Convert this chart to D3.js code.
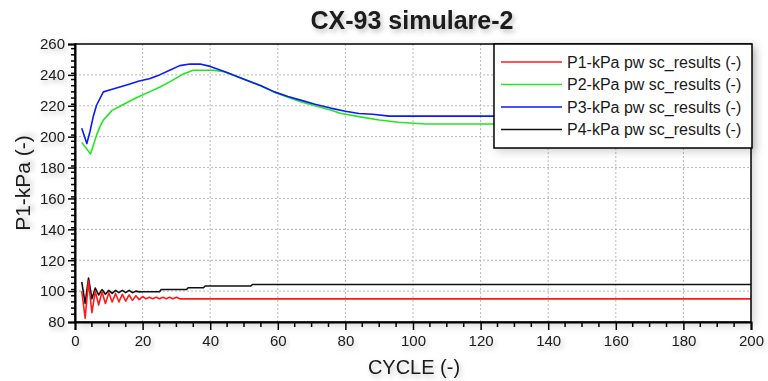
<!DOCTYPE html>
<html>
<head>
<meta charset="utf-8">
<script src="https://cdn.jsdelivr.net/npm/d3@7"></script>
<style>
  body { margin: 0; background: #fff; }
  text { font-family: "Liberation Sans", Arial, sans-serif; fill: #1a1a1a; }
</style>
</head>
<body>
<div id="chart"></div>
<script>
// series: [cycle, value]
const p1 = [[2,100],[3,82.5],[4,106.5],[5,86],[6,100],[7,91],[8,99.5],[9,92],[10,99],[11,93],[12,98.5],
  [13,93],[14,98],[15,93.5],[16,97.5],[17,94],[18,97],[19,94.5],[20,96.5],[21,95],[22,96],[23,95],[24,96],
  [25,95],[26,96],[27,95],[28,96],[29,95],[30,96],[31,95],[200,95]]
const p2 = [[2,196.3],[4.6,188.8],[6.4,201],[7.4,206.5],[8.4,210.8],[11,217],[14,220.5],[18,225],[22,229],
  [25,232],[28,235.5],[32,240.5],[35,243],[41,243],[44,242],[49,238.2],[55,233],[59,228.7],[63,225.5],
  [67,222.5],[71,220],[75.6,217.3],[78.5,215.2],[84,213],[90,210.8],[95.7,209.3],[103.7,208.2],[200,208.2]]
const p3 = [[2,205.5],[3.5,195.5],[4.4,203],[5.4,213],[6.4,220.5],[8.4,229],[10,230],[13,232],[16,234],
  [19,236],[22,237.5],[25,240],[28,243],[31,246],[34,247],[37,247],[40,245.5],[45,241.5],[49,238],[55,233],
  [59,229],[63,226],[67,223.5],[71,221],[75.6,218.5],[80,216.5],[84,215],[88,214.5],[93,213.3],[200,213.3]]
const p4 = [[2,106],[3,92],[4,108.5],[5,95],[6,102],[7,97.5],[8,101],[9,98],[10,100.5],[11,98.5],[12,100.5],
  [13,99],[14,100.5],[15,99],[16,100.5],[17,99],[18,100],[19,99.5],[20,99.6],[25,99.6],[25.5,101],[33,101],
  [33.5,102.2],[38,102.2],[38.5,103.3],[52,103.3],[52.5,104.3],[200,104.3]]

const seriesNames = ["P1-kPa pw sc_results (-)", "P2-kPa pw sc_results (-)",
  "P3-kPa pw sc_results (-)", "P4-kPa pw sc_results (-)"]
const seriesColors = ["#ff1a1a", "#22e622", "#0a1aff", "#111111"]
const xTicks = [0, 20, 40, 60, 80, 100, 120, 140, 160, 180, 200]
const yTicks = [80, 100, 120, 140, 160, 180, 200, 220, 240, 260]

const W = 768, H = 381
const margin = {top: 44, right: 17, bottom: 59, left: 75}
const width = W - margin.left - margin.right
const height = H - margin.top - margin.bottom

const svg = d3.select("#chart").append("svg")
    .attr("width", W)
    .attr("height", H)

const defs = svg.append("defs")
defs.append("filter").attr("id", "shadow")
    .attr("x", "-20%").attr("y", "-20%").attr("width", "140%").attr("height", "140%")
  .append("feDropShadow")
    .attr("dx", 3).attr("dy", 3).attr("stdDeviation", 4)
    .attr("flood-color", "#000").attr("flood-opacity", 0.18)
defs.append("filter").attr("id", "tshadow")
    .attr("x", "-20%").attr("y", "-40%").attr("width", "140%").attr("height", "180%")
  .append("feDropShadow")
    .attr("dx", 2).attr("dy", 3).attr("stdDeviation", 2.5)
    .attr("flood-color", "#000").attr("flood-opacity", 0.25)

const g = svg.append("g")
    .attr("transform", `translate(${margin.left},${margin.top})`)

const x = d3.scaleLinear().domain([0, 200]).range([0, width])
const y = d3.scaleLinear().domain([80, 260]).range([height, 0])

// plot background with soft shadow
g.append("rect")
    .attr("width", width).attr("height", height)
    .attr("fill", "#fff")
    .attr("filter", "url(#shadow)")

// grid
g.append("g")
    .selectAll("line")
    .data(xTicks.slice(1, -1))
    .join("line")
    .attr("x1", d => x(d)).attr("x2", d => x(d))
    .attr("y1", 0).attr("y2", height)
    .attr("stroke", "#b8b8b8").attr("stroke-dasharray", "2,2")
g.append("g")
    .selectAll("line")
    .data(yTicks.slice(1, -1))
    .join("line")
    .attr("y1", d => y(d)).attr("y2", d => y(d))
    .attr("x1", 0).attr("x2", width)
    .attr("stroke", "#b8b8b8").attr("stroke-dasharray", "2,2")

// lines
const line = d3.line()
    .x(d => x(d[0]))
    .y(d => y(d[1]))

const allSeries = [p1, p2, p3, p4]
// draw in order so black and red sit on top near the bottom
g.append("g")
    .selectAll("path")
    .data([1, 2, 3, 0])
    .join("path")
    .attr("d", i => line(allSeries[i]))
    .attr("fill", "none")
    .attr("stroke", i => seriesColors[i])
    .attr("stroke-width", 1.6)
    .attr("stroke-linejoin", "round")

// frame
g.append("rect")
    .attr("width", width).attr("height", height)
    .attr("fill", "none")
    .attr("stroke", "#000")
    .attr("stroke-width", 1.5)

// axes
const xAx = d3.axisBottom(x)
    .tickValues(xTicks)
    .tickSize(8)
    .tickPadding(5)
const yAx = d3.axisLeft(y)
    .tickValues(yTicks)
    .tickSize(7)
    .tickPadding(3)

const xGroup = g.append("g")
    .attr("transform", `translate(0,${height})`)
    .call(xAx)
xGroup.select(".domain").attr("stroke-width", 2)
xGroup.selectAll(".tick line").attr("stroke-width", 1.5)
xGroup.selectAll(".tick text")
    .style("font-family", "Liberation Sans, Arial, sans-serif")
    .style("font-size", "15px")
    .attr("fill", "#1a1a1a")
    .attr("filter", "url(#tshadow)")

const yGroup = g.append("g").call(yAx)
yGroup.select(".domain").attr("stroke-width", 2)
yGroup.selectAll(".tick line").attr("stroke-width", 1.5)
yGroup.selectAll(".tick text")
    .style("font-family", "Liberation Sans, Arial, sans-serif")
    .style("font-size", "15px")
    .attr("fill", "#1a1a1a")
    .attr("filter", "url(#tshadow)")

// minor ticks
g.append("g")
    .selectAll("line")
    .data(d3.range(85, 260, 4).filter(v => (v - 80) % 20 !== 0))
    .join("line")
    .attr("x1", -4).attr("x2", 0)
    .attr("y1", d => y(d)).attr("y2", d => y(d))
    .attr("stroke", "#000").attr("stroke-width", 1.5)
g.append("g")
    .selectAll("line")
    .data(d3.range(5, 200, 5).filter(v => v % 20 !== 0))
    .join("line")
    .attr("x1", d => x(d)).attr("x2", d => x(d))
    .attr("y1", height).attr("y2", height + 5)
    .attr("stroke", "#000").attr("stroke-width", 1.5)

// title
svg.append("text")
    .attr("x", 412).attr("y", 29)
    .attr("text-anchor", "middle")
    .style("font-family", "Liberation Sans Narrow, Arial Narrow, Liberation Sans, sans-serif")
    .style("font-weight", "bold")
    .style("font-size", "25px")
    .attr("filter", "url(#tshadow)")
    .text("CX-93 simulare-2")

// axis titles
svg.append("text")
    .attr("x", 414).attr("y", 374)
    .attr("text-anchor", "middle")
    .style("font-size", "20px")
    .attr("filter", "url(#tshadow)")
    .text("CYCLE (-)")
svg.append("text")
    .attr("transform", "translate(30,183) rotate(-90)")
    .attr("text-anchor", "middle")
    .style("font-size", "21px")
    .attr("filter", "url(#tshadow)")
    .text("P1-kPa (-)")

// legend
const legend = svg.append("g").attr("transform", "translate(494,44)")
legend.append("rect")
    .attr("width", 258).attr("height", 104)
    .attr("fill", "#fff")
    .attr("stroke", "#000").attr("stroke-width", 1.5)
    .attr("filter", "url(#shadow)")
const rows = legend.selectAll(".row")
    .data(seriesNames)
    .join("g")
    .attr("class", "row")
    .attr("transform", (d, i) => `translate(0,${18 + i * 22.5})`)
rows.append("line")
    .attr("x1", 7).attr("x2", 68)
    .attr("stroke", (d, i) => seriesColors[i])
    .attr("stroke-width", 1.5)
rows.append("text")
    .attr("x", 73).attr("y", 5.5)
    .style("font-size", "16px")
    .text(d => d)
</script>
</body>
</html>
